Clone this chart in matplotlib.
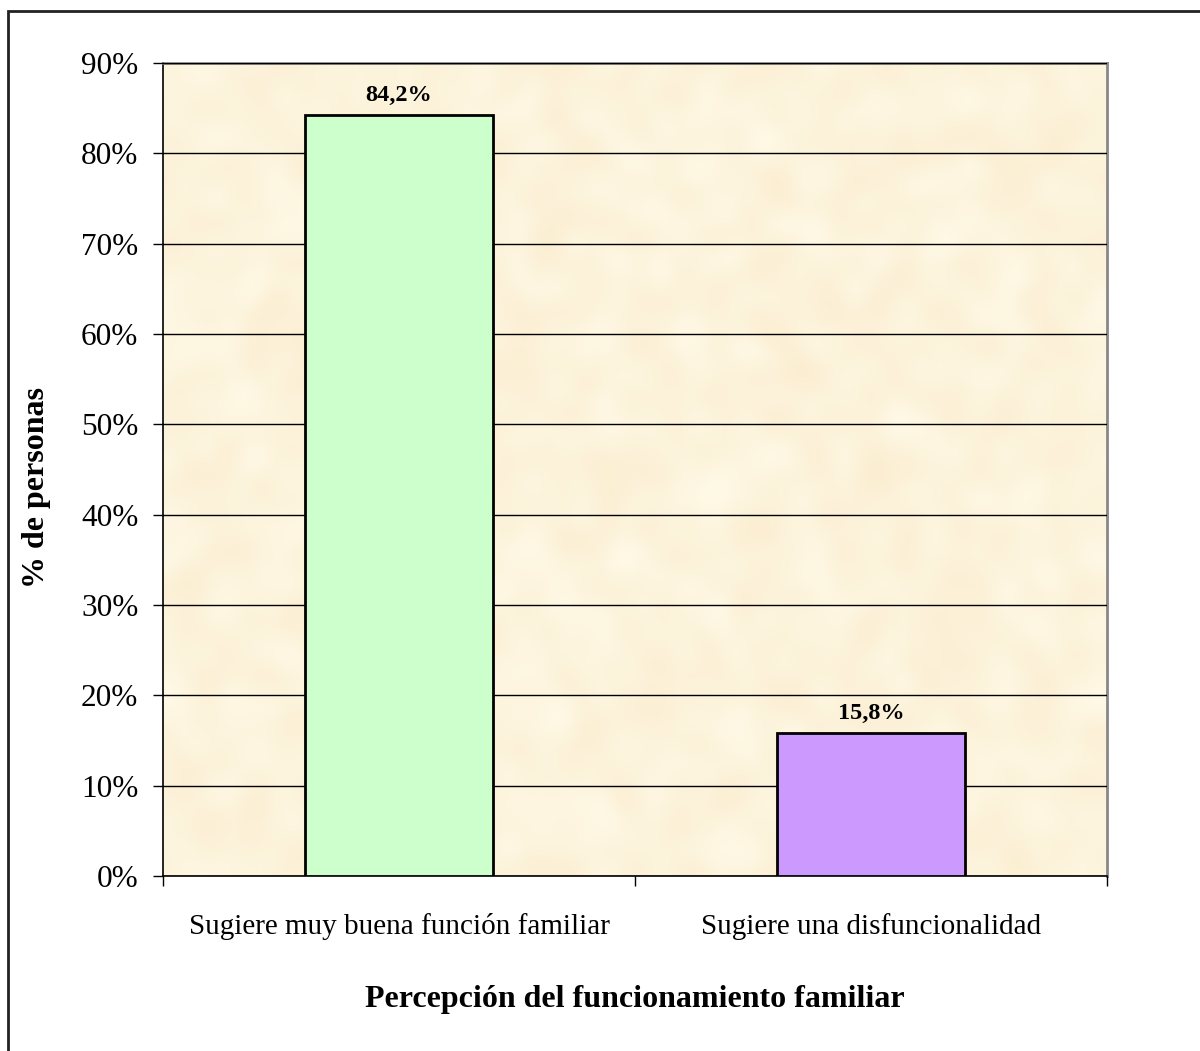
import numpy as np
import matplotlib
matplotlib.use("Agg")
import matplotlib.pyplot as plt
from matplotlib.patches import Rectangle
from matplotlib.ticker import FuncFormatter

plt.rcParams['font.family'] = ['Liberation Serif', 'DejaVu Serif']

categorias = ["Sugiere muy buena función familiar", "Sugiere una disfuncionalidad"]
porcentajes = [84.2, 15.8]
colores = ["#CCFFCC", "#CC99FF"]
etiquetas = ["84,2%", "15,8%"]

fig = plt.figure(figsize=(12, 10.51), dpi=100)

# marco exterior del grafico (cortado a la derecha y abajo)
fig.patches.append(Rectangle((8 / 1200, -0.05), 1.2, 1 - 11 / 1051 + 0.05,
                             transform=fig.transFigure, fill=False,
                             edgecolor="#222222", linewidth=2))

ax = fig.add_axes([163 / 1200, 175 / 1051, 944 / 1200, 813 / 1051])

# fondo tipo pergamino
rng = np.random.default_rng(3)
ruido = rng.random((90, 110))
k = np.ones(3) / 3
ruido = np.pad(ruido, 3, mode="wrap")
for _ in range(2):
    ruido = np.apply_along_axis(lambda r: np.convolve(r, k, mode="same"), 0, ruido)
    ruido = np.apply_along_axis(lambda r: np.convolve(r, k, mode="same"), 1, ruido)
ruido = ruido[3:-3, 3:-3]
ruido = (ruido - ruido.min()) / (ruido.max() - ruido.min())
base = np.array([255, 251, 234]) / 255
oscuro = np.array([251, 237, 208]) / 255
textura = base + (oscuro - base) * ruido[..., None]
ax.imshow(textura, extent=[-0.5, 1.5, 0, 90], aspect="auto",
          interpolation="bicubic", zorder=0)

x = np.arange(len(categorias))
ax.bar(x, porcentajes, width=0.4, color=colores, edgecolor="black",
       linewidth=2, zorder=3)
for xi, v, t in zip(x, porcentajes, etiquetas):
    ax.text(xi, v + 1.0, t, ha="center", va="bottom", fontsize=17.5,
            fontweight="bold", zorder=4)

ax.set_xlim(-0.5, 1.5)
ax.set_ylim(0, 90)
ax.set_yticks(np.arange(0, 91, 10))
ax.yaxis.set_major_formatter(FuncFormatter(lambda v, p: f"{v:.0f}%"))
ax.yaxis.grid(True, color="black", linewidth=1)
ax.set_axisbelow(False)
for gl in ax.get_ygridlines():
    gl.set_zorder(1)

ax.set_xticks([-0.5, 0.5, 1.5], minor=False)
ax.set_xticklabels([])
ax.set_xticks(x, minor=True)
ax.set_xticklabels(categorias, minor=True, fontsize=21)
ax.tick_params(axis="x", which="minor", length=0, pad=27)
ax.tick_params(axis="x", which="major", length=7.2, width=1, direction="out")
ax.tick_params(axis="y", length=7.2, width=1, labelsize=22.5, pad=10.5)

ax.spines["top"].set_color("#888888")
ax.spines["right"].set_color("#888888")
ax.spines["top"].set_linewidth(2)
ax.spines["right"].set_linewidth(2)
ax.spines["left"].set_linewidth(1.2)
ax.spines["bottom"].set_linewidth(1.2)

ax.set_ylabel("% de personas", fontsize=23, fontweight="bold")
ax.yaxis.set_label_coords(-0.119, 0.478)
ax.set_xlabel("Percepción del funcionamiento familiar", fontsize=23,
              fontweight="bold")
ax.xaxis.set_label_coords(0.5, -0.134)

fig.savefig("out.png", dpi=100, facecolor="white")
